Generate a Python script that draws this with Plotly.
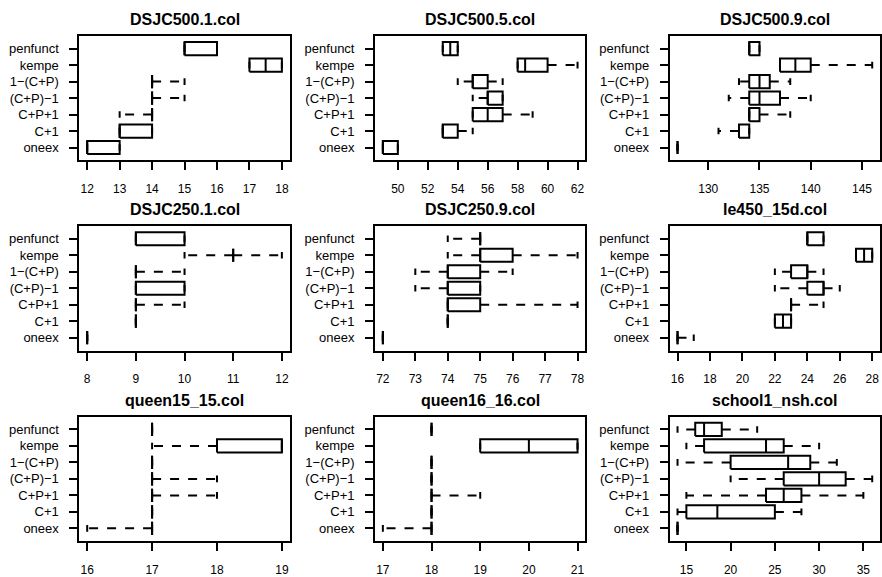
import plotly.graph_objects as go

# categories, bottom to top
categories = ["oneex", "C+1", "C+P+1", "(C+P)\u22121", "1\u2212(C+P)", "kempe", "penfunct"]

# panel titles (row-major order)
titles = ["DSJC500.1.col", "DSJC500.5.col", "DSJC500.9.col",
          "DSJC250.1.col", "DSJC250.9.col", "le450_15d.col",
          "queen15_15.col", "queen16_16.col", "school1_nsh.col"]

# box statistics per category (same order as categories): [low whisker, q1, median, q3, high whisker]
dsjc500_1 = [[12, 12, 12, 13, 13], [13, 13, 13, 14, 14], [13, 14, 14, 14, 14], [14, 14, 14, 14, 15],
             [14, 14, 14, 14, 15], [17, 17, 17.5, 18, 18], [15, 15, 15, 16, 16]]
dsjc500_5 = [[49, 49, 49, 50, 50], [53, 53, 53, 54, 55], [55, 55, 56, 57, 59], [55, 56, 56, 57, 57],
             [54, 55, 55, 56, 57], [58, 58, 58.5, 60, 62], [53, 53, 53.5, 54, 54]]
dsjc500_9 = [[127, 127, 127, 127, 127], [131, 133, 133, 134, 134], [134, 134, 134, 135, 138],
             [132, 134, 135, 137, 140], [133, 134, 135, 136, 138], [137, 137, 138.5, 140, 146],
             [134, 134, 134, 135, 135]]
dsjc250_1 = [[8, 8, 8, 8, 8], [9, 9, 9, 9, 9], [9, 9, 9, 9, 10], [9, 9, 9, 10, 10],
             [9, 9, 9, 9, 10], [10, 11, 11, 11, 12], [9, 9, 9, 10, 10]]
dsjc250_9 = [[72, 72, 72, 72, 72], [74, 74, 74, 74, 74], [74, 74, 74, 75, 78], [73, 74, 74, 75, 75],
             [73, 74, 74, 75, 76], [74, 75, 75, 76, 78], [74, 75, 75, 75, 75]]
le450_15d = [[16, 16, 16, 16, 17], [22, 22, 22.5, 23, 23], [23, 23, 23, 23, 25], [22, 24, 25, 25, 26],
             [22, 23, 24, 24, 25], [27, 27, 27.5, 28, 28], [24, 24, 24, 25, 25]]
queen15_15 = [[16, 17, 17, 17, 17], [17, 17, 17, 17, 17], [17, 17, 17, 17, 18], [17, 17, 17, 17, 18],
              [17, 17, 17, 17, 17], [17, 18, 19, 19, 19], [17, 17, 17, 17, 17]]
queen16_16 = [[17, 18, 18, 18, 18], [18, 18, 18, 18, 18], [18, 18, 18, 18, 19], [18, 18, 18, 18, 18],
              [18, 18, 18, 18, 18], [19, 19, 20, 21, 21], [18, 18, 18, 18, 18]]
school1_nsh = [[14, 14, 14, 14, 14], [14, 15, 18.5, 25, 28], [15, 24, 26, 28, 35], [20, 26, 30, 33, 36],
               [14, 20, 26.5, 29, 32], [15, 17, 24, 26, 30], [14, 16, 17, 19, 23]]

# x tick values per panel
ticks_1 = [12, 13, 14, 15, 16, 17, 18]
ticks_2 = [50, 52, 54, 56, 58, 60, 62]
ticks_3 = [130, 135, 140, 145]
ticks_4 = [8, 9, 10, 11, 12]
ticks_5 = [72, 73, 74, 75, 76, 77, 78]
ticks_6 = [16, 18, 20, 22, 24, 26, 28]
ticks_7 = [16, 17, 18, 19]
ticks_8 = [17, 18, 19, 20, 21]
ticks_9 = [15, 20, 25, 30, 35]

panels = [dsjc500_1, dsjc500_5, dsjc500_9, dsjc250_1, dsjc250_9, le450_15d, queen15_15, queen16_16, school1_nsh]
tick_sets = [ticks_1, ticks_2, ticks_3, ticks_4, ticks_5, ticks_6, ticks_7, ticks_8, ticks_9]

# ---------------- layout geometry (pixels) ----------------
W, H = 882, 577
col_left = [79.5, 375.5, 670.5]
col_w = 210.5
row_top = [36, 227.5, 419.5]
row_h = 125.5
HALF = 0.4      # half box height (boxwex 0.8)
STAPLE = 0.2    # half staple height
LW = 2
FONT = "Liberation Sans, Arial, Helvetica, sans-serif"

fig = go.Figure()
layout = dict(width=W, height=H, margin=dict(l=0, r=0, t=0, b=0), autosize=False,
              plot_bgcolor="white", paper_bgcolor="white", showlegend=False,
              font=dict(family=FONT, color="black"), annotations=[])

for k, (data, tv, title) in enumerate(zip(panels, tick_sets, titles)):
    r, c = divmod(k, 3)
    xs = "" if k == 0 else str(k + 1)
    xref, yref = "x" + xs, "y" + xs

    box_x, box_y, med_x, med_y, wh_x, wh_y, cap_x, cap_y = [], [], [], [], [], [], [], []
    for i, (lo, q1, med, q3, hi) in enumerate(data):
        p = i + 1
        box_x += [q1, q3, q3, q1, q1, None]
        box_y += [p - HALF, p - HALF, p + HALF, p + HALF, p - HALF, None]
        med_x += [med, med, None]
        med_y += [p - HALF, p + HALF, None]
        if hi > q3:
            wh_x += [q3, hi, None]
            wh_y += [p, p, None]
        if lo < q1:
            wh_x += [q1, lo, None]
            wh_y += [p, p, None]
        for v in (lo, hi):
            cap_x += [v, v, None]
            cap_y += [p - STAPLE, p + STAPLE, None]

    common = dict(mode="lines", xaxis=xref, yaxis=yref, hoverinfo="skip")
    fig.add_trace(go.Scatter(x=wh_x, y=wh_y, line=dict(color="black", width=LW, dash="dash"), **common))
    fig.add_trace(go.Scatter(x=cap_x, y=cap_y, line=dict(color="black", width=LW), **common))
    fig.add_trace(go.Scatter(x=box_x, y=box_y, line=dict(color="black", width=LW), **common))
    fig.add_trace(go.Scatter(x=med_x, y=med_y, line=dict(color="black", width=LW), **common))

    vals = [v for row in data for v in row]
    lo_all, hi_all = min(vals), max(vals)
    ext = 0.04 * (hi_all - lo_all)

    x0 = col_left[c] / W
    x1 = (col_left[c] + col_w) / W
    y1 = 1 - row_top[r] / H
    y0 = 1 - (row_top[r] + row_h) / H

    layout["xaxis" + xs] = dict(domain=[x0, x1], anchor=yref, range=[lo_all - ext, hi_all + ext],
                                tickvals=tv, ticks="outside", ticklen=8, tickwidth=LW, tickcolor="black",
                                showline=True, linewidth=LW, linecolor="black", mirror=True,
                                showgrid=False, zeroline=False, ticklabelstandoff=8,
                                tickfont=dict(family=FONT, size=12, color="black"))
    layout["yaxis" + xs] = dict(domain=[y0, y1], anchor=xref, range=[0.22, 7.78],
                                tickvals=list(range(1, len(categories) + 1)), ticktext=categories,
                                ticks="outside", ticklen=8, tickwidth=LW, tickcolor="black",
                                showline=True, linewidth=LW, linecolor="black", mirror=True,
                                showgrid=False, zeroline=False, ticklabelstandoff=8,
                                tickfont=dict(family=FONT, size=13, color="black"))
    layout["annotations"].append(dict(text="<b>%s</b>" % title, xref="paper", yref="paper",
                                      x=(x0 + x1) / 2, y=y1, yshift=16, xanchor="center", yanchor="middle",
                                      showarrow=False, font=dict(family=FONT, size=16, color="black")))

fig.update_layout(**layout)
fig.write_html("out.html", config={"displayModeBar": False, "staticPlot": True},
               post_script="document.body.style.margin='0';document.body.style.padding='0';"
                           "document.body.style.overflow='hidden';")
